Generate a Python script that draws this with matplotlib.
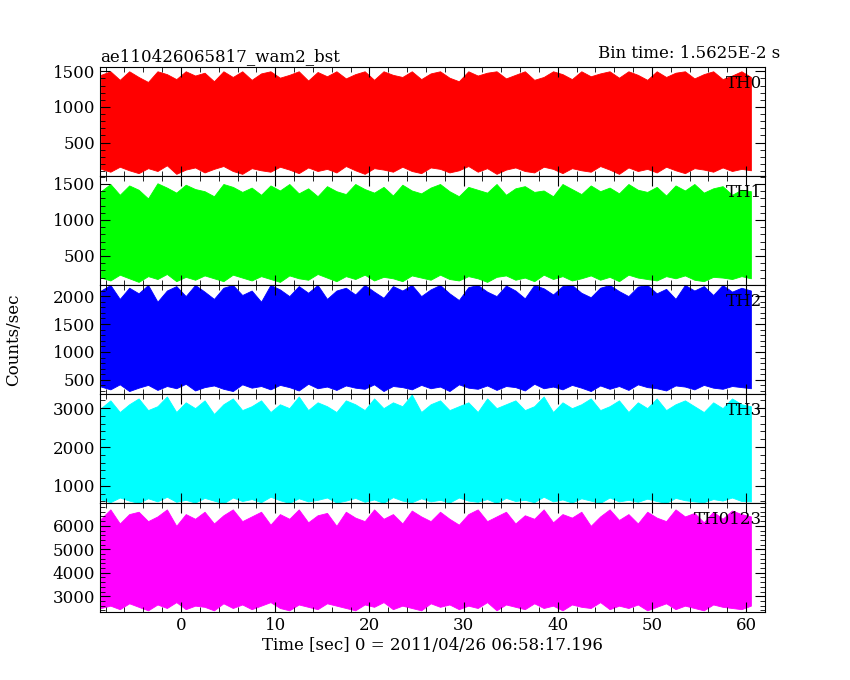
import matplotlib
matplotlib.use("Agg")
import matplotlib.pyplot as plt
from matplotlib.ticker import AutoMinorLocator, MultipleLocator

plt.rcParams["font.family"] = ["DejaVu Serif"]

# envelope samples (upper / lower) read every 1 s from t = -8.5 to 60.5
t = [-8.5 + i for i in range(70)]

th0_hi = [1450, 1500, 1380, 1500, 1420, 1350, 1500, 1460, 1390, 1500, 1440, 1480, 1360, 1500, 1420, 1500, 1380, 1470,
          1500, 1410, 1450, 1500, 1370, 1490, 1430, 1500, 1400, 1460, 1500, 1380, 1500, 1450, 1420, 1500, 1390, 1470,
          1500, 1410, 1360, 1500, 1440, 1480, 1500, 1400, 1450, 1500, 1380, 1420, 1500, 1460, 1390, 1500, 1430, 1470,
          1500, 1410, 1500, 1450, 1380, 1500, 1420, 1480, 1500, 1400, 1460, 1500, 1390, 1440, 1500, 1420]
th0_lo = [130, 90, 160, 110, 70, 140, 100, 180, 60, 120, 150, 80, 130, 170, 100, 60, 140, 110, 90, 160, 120, 70, 150,
          100, 130, 80, 170, 110, 60, 140, 120, 90, 160, 100, 70, 150, 130, 80, 110, 170, 90, 140, 60, 120, 150, 100,
          80, 160, 130, 70, 140, 110, 90, 170, 120, 60, 150, 100, 130, 80, 160, 110, 70, 140, 120, 90, 150, 100, 130, 110]
th1_hi = [1400, 1500, 1350, 1480, 1420, 1300, 1510, 1450, 1380, 1490, 1430, 1400, 1330, 1500, 1460, 1390, 1450, 1350,
          1480, 1410, 1500, 1370, 1440, 1330, 1470, 1400, 1360, 1500, 1430, 1380, 1460, 1340, 1490, 1410, 1370, 1450,
          1500, 1400, 1330, 1460, 1420, 1380, 1500, 1350, 1440, 1470, 1390, 1410, 1330, 1500, 1430, 1360, 1480, 1400,
          1450, 1370, 1500, 1420, 1390, 1460, 1340, 1480, 1410, 1500, 1380, 1440, 1470, 1350, 1420, 1400]
th1_lo = [200, 160, 240, 190, 140, 220, 180, 250, 150, 210, 170, 230, 190, 150, 240, 200, 160, 220, 180, 140, 230,
          190, 170, 250, 200, 150, 220, 180, 240, 160, 210, 190, 150, 230, 200, 170, 240, 180, 160, 220, 190, 140, 210,
          230, 170, 200, 150, 240, 180, 220, 160, 190, 230, 170, 210, 150, 240, 200, 180, 160, 220, 190, 230, 170, 150,
          210, 200, 180, 220, 190]
th2_hi = [2100, 2200, 1950, 2150, 2050, 2200, 1900, 2100, 2180, 2000, 2200, 2080, 1950, 2150, 2200, 2020, 2100, 1900,
          2200, 2120, 2000, 2180, 2060, 2200, 1950, 2100, 2150, 2030, 2200, 2080, 1970, 2180, 2100, 2200, 2000, 2120,
          2200, 2050, 1930, 2160, 2200, 2080, 2000, 2190, 2100, 1960, 2200, 2140, 2030, 2180, 2200, 2060, 1980, 2150,
          2200, 2090, 2000, 2170, 2200, 2050, 2130, 1950, 2200, 2100, 2180, 2020, 2200, 2080, 2150, 2100]
th2_lo = [380, 330, 420, 300, 360, 410, 320, 390, 350, 430, 310, 370, 400, 340, 300, 420, 360, 390, 330, 410, 370,
          310, 430, 350, 380, 320, 400, 360, 340, 420, 300, 390, 370, 330, 410, 350, 380, 300, 420, 360, 340, 400, 320,
          390, 370, 310, 430, 350, 380, 330, 410, 360, 300, 400, 340, 390, 320, 420, 370, 350, 310, 400, 380, 330, 410,
          360, 340, 390, 370, 350]
th3_hi = [3000, 3200, 2900, 3100, 3250, 2950, 3050, 3300, 2900, 3150, 3000, 3200, 2850, 3100, 3250, 2950, 3050, 3200,
          2900, 3100, 3000, 3300, 2950, 3150, 3050, 2900, 3200, 3100, 2950, 3250, 3000, 3150, 3050, 3350, 2900, 3100,
          3200, 2950, 3050, 3150, 2900, 3250, 3000, 3100, 3200, 2950, 3050, 3300, 2900, 3150, 3000, 3100, 3250, 2950,
          3050, 3200, 2900, 3150, 3000, 3250, 2950, 3100, 3200, 3050, 2900, 3150, 3000, 3250, 3100, 3050]
th3_lo = [650, 580, 700, 620, 560, 680, 600, 720, 590, 640, 570, 690, 620, 550, 700, 610, 660, 580, 720, 630, 560,
          680, 600, 640, 700, 570, 620, 690, 590, 650, 560, 710, 620, 580, 680, 600, 640, 570, 700, 620, 590, 660, 560,
          690, 610, 640, 580, 720, 600, 650, 570, 680, 620, 560, 700, 600, 640, 590, 670, 610, 560, 690, 630, 600, 580,
          660, 620, 700, 610, 600]
th4_hi = [6300, 6700, 6100, 6500, 6600, 6200, 6400, 6700, 6000, 6500, 6300, 6600, 6100, 6450, 6700, 6200, 6400, 6600,
          6050, 6500, 6300, 6700, 6150, 6450, 6550, 6000, 6600, 6350, 6200, 6700, 6300, 6500, 6100, 6650, 6400, 6200,
          6600, 6300, 6050, 6500, 6700, 6200, 6400, 6600, 6100, 6450, 6300, 6700, 6150, 6500, 6350, 6600, 6000, 6400,
          6700, 6250, 6500, 6100, 6600, 6350, 6200, 6700, 6400, 6550, 6150, 6600, 6300, 6650, 6500, 6400]
th4_lo = [2500, 2600, 2450, 2700, 2550, 2400, 2650, 2500, 2750, 2450, 2600, 2550, 2400, 2700, 2500, 2650, 2450, 2600,
          2750, 2500, 2400, 2650, 2550, 2450, 2700, 2600, 2500, 2400, 2650, 2550, 2750, 2450, 2600, 2500, 2400, 2700,
          2550, 2650, 2450, 2600, 2500, 2750, 2400, 2650, 2550, 2450, 2700, 2500, 2600, 2400, 2650, 2550, 2500, 2750,
          2450, 2600, 2500, 2650, 2400, 2550, 2700, 2450, 2600, 2500, 2400, 2650, 2550, 2500, 2450, 2600]

names = ["TH0", "TH1", "TH2", "TH3", "TH0123"]
colors = ["#ff0000", "#00ff00", "#0000ff", "#00ffff", "#ff00ff"]
highs = [th0_hi, th1_hi, th2_hi, th3_hi, th4_hi]
lows = [th0_lo, th1_lo, th2_lo, th3_lo, th4_lo]
ylims = [(30, 1560), (97, 1611), (247, 2199), (559, 3364), (2330, 6972)]
yticks = [[500, 1000, 1500], [500, 1000, 1500], [500, 1000, 1500, 2000], [1000, 2000, 3000], [3000, 4000, 5000, 6000]]

fig = plt.figure(figsize=(8.5, 6.8), dpi=100)
fig.patch.set_facecolor("white")
L, R, T, B = 100 / 850, 765 / 850, 1 - 67 / 680, 1 - 612 / 680
h = (T - B) / 5
axes = []
for i in range(5):
    ax = fig.add_axes([L, T - (i + 1) * h, R - L, h])
    axes.append(ax)
    ax.fill_between(t, lows[i], highs[i], color=colors[i], lw=0.6, edgecolor=colors[i])
    ax.set_xlim(-8.6, 62)
    ax.set_ylim(*ylims[i])
    ax.set_yticks(yticks[i])
    ax.xaxis.set_major_locator(MultipleLocator(10))
    ax.xaxis.set_minor_locator(MultipleLocator(2))
    ax.yaxis.set_minor_locator(AutoMinorLocator(5))
    ax.tick_params(which="both", direction="in", top=True, right=True, labelsize=12)
    ax.tick_params(which="major", length=7)
    ax.tick_params(which="minor", length=3.5)
    if i < 4:
        ax.tick_params(labelbottom=False)
    ax.text(0.995, 0.93, names[i], transform=ax.transAxes, ha="right", va="top", fontsize=12)

axes[0].set_title("ae110426065817_wam2_bst", loc="left", fontsize=12, pad=4)
fig.text(780 / 850, 1 - 62 / 680, "Bin time: 1.5625E-2 s", ha="right", va="bottom", fontsize=12)
axes[4].set_xlabel("Time [sec] 0 = 2011/04/26 06:58:17.196", fontsize=12, labelpad=2)
fig.text(14 / 850, (T + B) / 2, "Counts/sec", rotation=90, va="center", ha="center", fontsize=12)

fig.savefig("out.png", dpi=100, facecolor="white")
